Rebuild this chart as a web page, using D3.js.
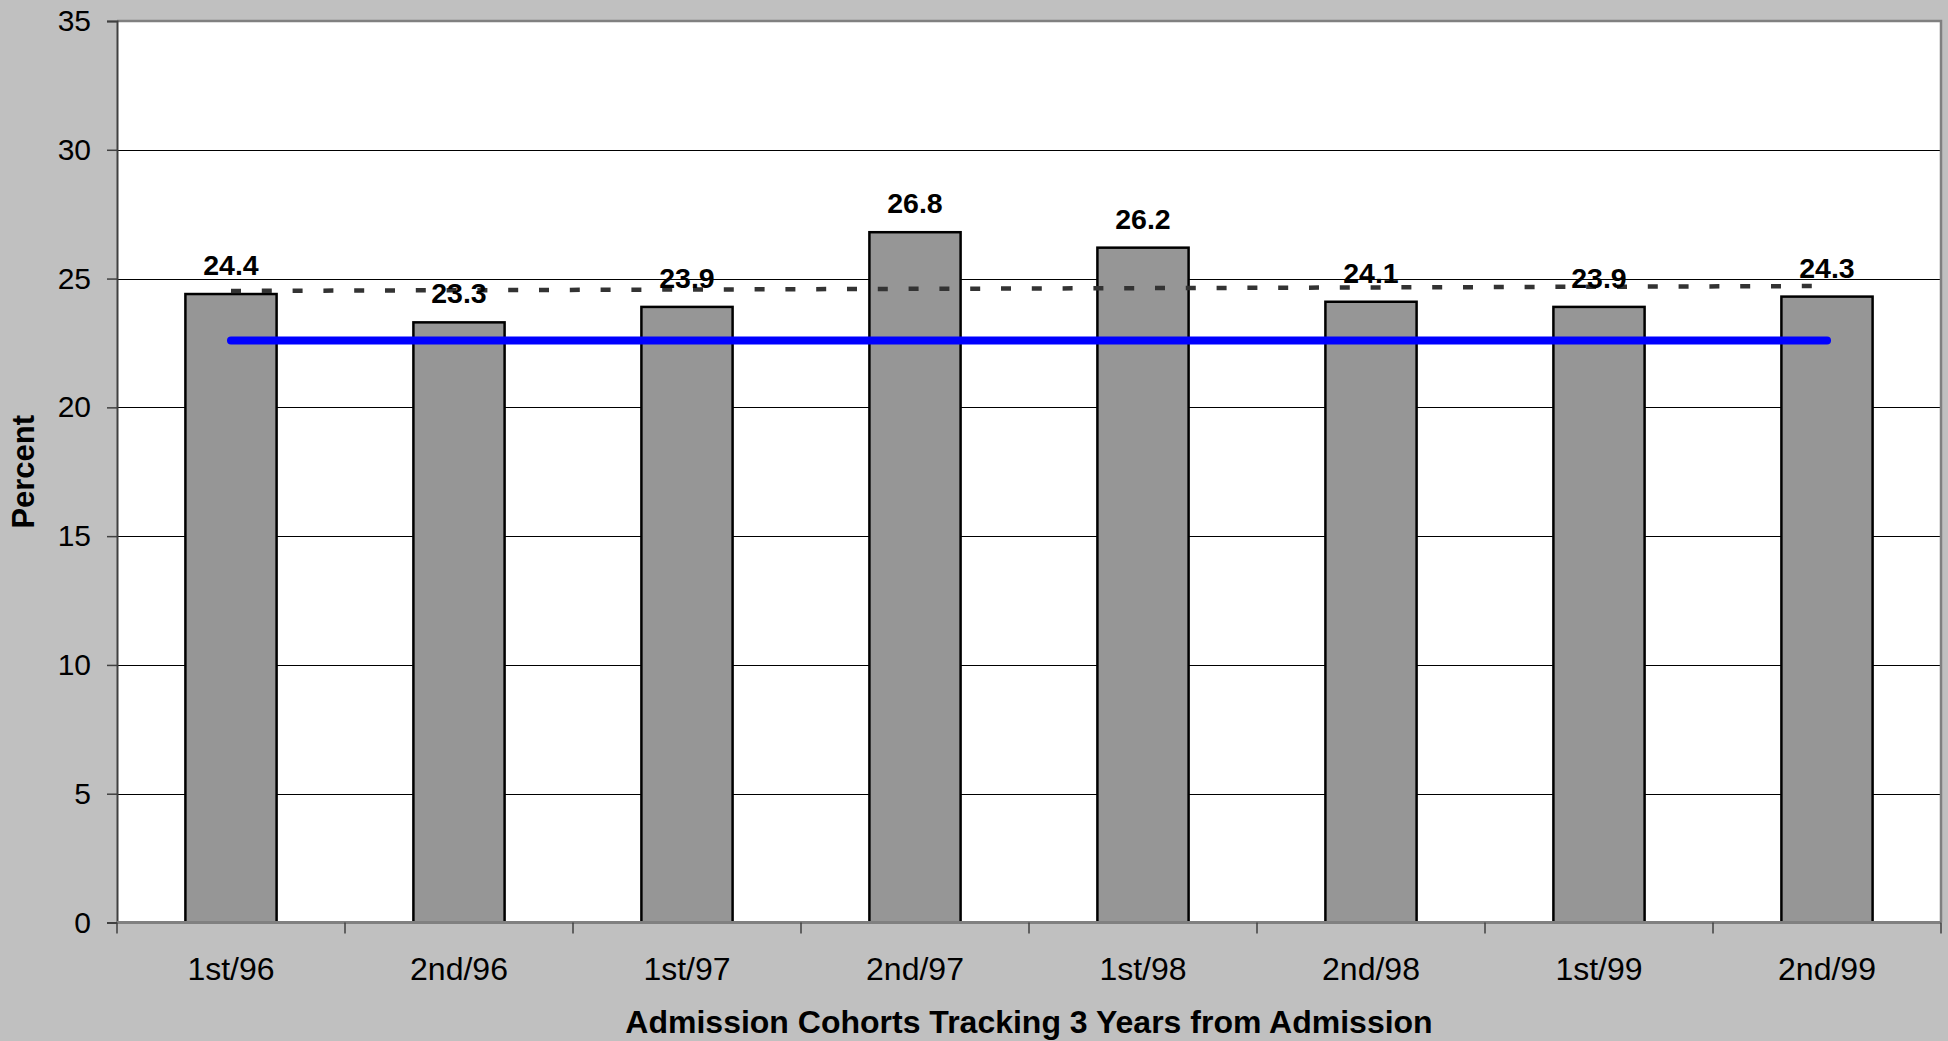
<!DOCTYPE html>
<html>
<head>
<meta charset="utf-8">
<script src="https://cdn.jsdelivr.net/npm/d3@7"></script>
<style>
  html, body { margin: 0; padding: 0; background: #c0c0c0; }
  svg { display: block; font-family: "Liberation Sans", Arial, sans-serif; }
</style>
</head>
<body>
<script>
// Cohort labels and percent values per admission half-year
const categories = ["1st/96", "2nd/96", "1st/97", "2nd/97", "1st/98", "2nd/98", "1st/99", "2nd/99"];
const percents = [24.4, 23.3, 23.9, 26.8, 26.2, 24.1, 23.9, 24.3];
// Linear trend: value at first and last cohort
const trendEnds = [24.52, 24.71];
// Reference average level drawn as a flat line
const averageLevel = [22.6, 22.6];
const yTicks = [0, 5, 10, 15, 20, 25, 30, 35];

const W = 1948, H = 1041;
const plot = { left: 117, right: 1941, top: 21, bottom: 922.5 };

const svg = d3.select("body").append("svg").attr("width", W).attr("height", H);
svg.append("rect").attr("width", W).attr("height", H).attr("fill", "#c0c0c0");

const x = d3.scaleBand().domain(categories).range([plot.left, plot.right]).paddingInner(0.6).paddingOuter(0.3);
const xOuter = d3.scaleBand().domain(categories).range([plot.left, plot.right]);
const y = d3.scaleLinear().domain([0, 35]).range([plot.bottom, plot.top]);

// Plot area
svg.append("rect")
  .attr("x", plot.left).attr("y", plot.top)
  .attr("width", plot.right - plot.left).attr("height", plot.bottom - plot.top)
  .attr("fill", "#fff");

// Horizontal gridlines
svg.append("g").selectAll("line").data(yTicks.filter(t => t > 0 && t < 35)).join("line")
  .attr("x1", plot.left).attr("x2", plot.right)
  .attr("y1", d => Math.round(y(d)) + 0.5).attr("y2", d => Math.round(y(d)) + 0.5)
  .attr("stroke", "#000").attr("stroke-width", 1);

// Plot frame (top and right edges)
svg.append("path")
  .attr("d", `M${plot.left},${plot.top} H${plot.right} V${plot.bottom}`)
  .attr("fill", "none").attr("stroke", "#808080").attr("stroke-width", 2.5);

// Bars
svg.append("g").selectAll("rect").data(percents).join("rect")
  .attr("x", (d, i) => x(categories[i]))
  .attr("y", d => y(d))
  .attr("width", x.bandwidth())
  .attr("height", d => y(0) - y(d))
  .attr("fill", "#969696").attr("stroke", "#000").attr("stroke-width", 2.5);

// Y axis
const yAxis = d3.axisLeft(y).tickValues(yTicks).tickSize(10).tickPadding(16);
const gy = svg.append("g").attr("transform", `translate(${plot.left},0)`).call(yAxis);
gy.select(".domain").attr("stroke", "#404040").attr("stroke-width", 2);
gy.selectAll(".tick line").attr("stroke", "#404040").attr("stroke-width", 1.5);
gy.selectAll("text").attr("font-size", 30).attr("fill", "#000")
  .attr("font-family", "'Liberation Sans', Arial, sans-serif");

// X axis: ticks at category boundaries
const gx = svg.append("g").attr("transform", `translate(0,${plot.bottom})`);
gx.append("line").attr("x1", plot.left).attr("x2", plot.right).attr("y1", 0).attr("y2", 0)
  .attr("stroke", "#808080").attr("stroke-width", 3);
const bounds = categories.map(c => xOuter(c)).concat([plot.right]);
gx.selectAll("line.tk").data(bounds).join("line").attr("class", "tk")
  .attr("x1", d => d).attr("x2", d => d).attr("y1", 0).attr("y2", 11)
  .attr("stroke", "#404040").attr("stroke-width", 1.5);
gx.selectAll("text").data(categories).join("text")
  .attr("x", d => xOuter(d) + xOuter.bandwidth() / 2)
  .attr("y", 57)
  .attr("text-anchor", "middle").attr("font-size", 32).attr("fill", "#000")
  .text(d => d);

// Trend line (dashed)
const lineGen = d3.line().x(d => d[0]).y(d => y(d[1]));
const cx = c => xOuter(c) + xOuter.bandwidth() / 2;
const firstX = cx(categories[0]), lastX = cx(categories[categories.length - 1]);
svg.append("path")
  .attr("d", lineGen([[firstX, trendEnds[0]], [lastX, trendEnds[1]]]))
  .attr("fill", "none").attr("stroke", "#333").attr("stroke-width", 4.5)
  .attr("stroke-dasharray", "10,20.8");

// Average line (solid blue)
svg.append("path")
  .attr("d", lineGen([[firstX, averageLevel[0]], [lastX, averageLevel[1]]]))
  .attr("fill", "none").attr("stroke", "#0000ff").attr("stroke-width", 8)
  .attr("stroke-linecap", "round");

// Value labels
svg.append("g").selectAll("text").data(percents).join("text")
  .attr("x", (d, i) => cx(categories[i]))
  .attr("y", d => y(d) - 19)
  .attr("text-anchor", "middle").attr("font-size", 28.5).attr("font-weight", "bold").attr("fill", "#000")
  .text(d => d.toFixed(1));

// Axis titles
svg.append("text")
  .attr("x", (plot.left + plot.right) / 2).attr("y", 1033)
  .attr("text-anchor", "middle").attr("font-size", 32).attr("font-weight", "bold")
  .text("Admission Cohorts Tracking 3 Years from Admission");
svg.append("text")
  .attr("transform", `translate(34,${(plot.top + plot.bottom) / 2}) rotate(-90)`)
  .attr("text-anchor", "middle").attr("font-size", 31).attr("font-weight", "bold")
  .text("Percent");
</script>
</body>
</html>
